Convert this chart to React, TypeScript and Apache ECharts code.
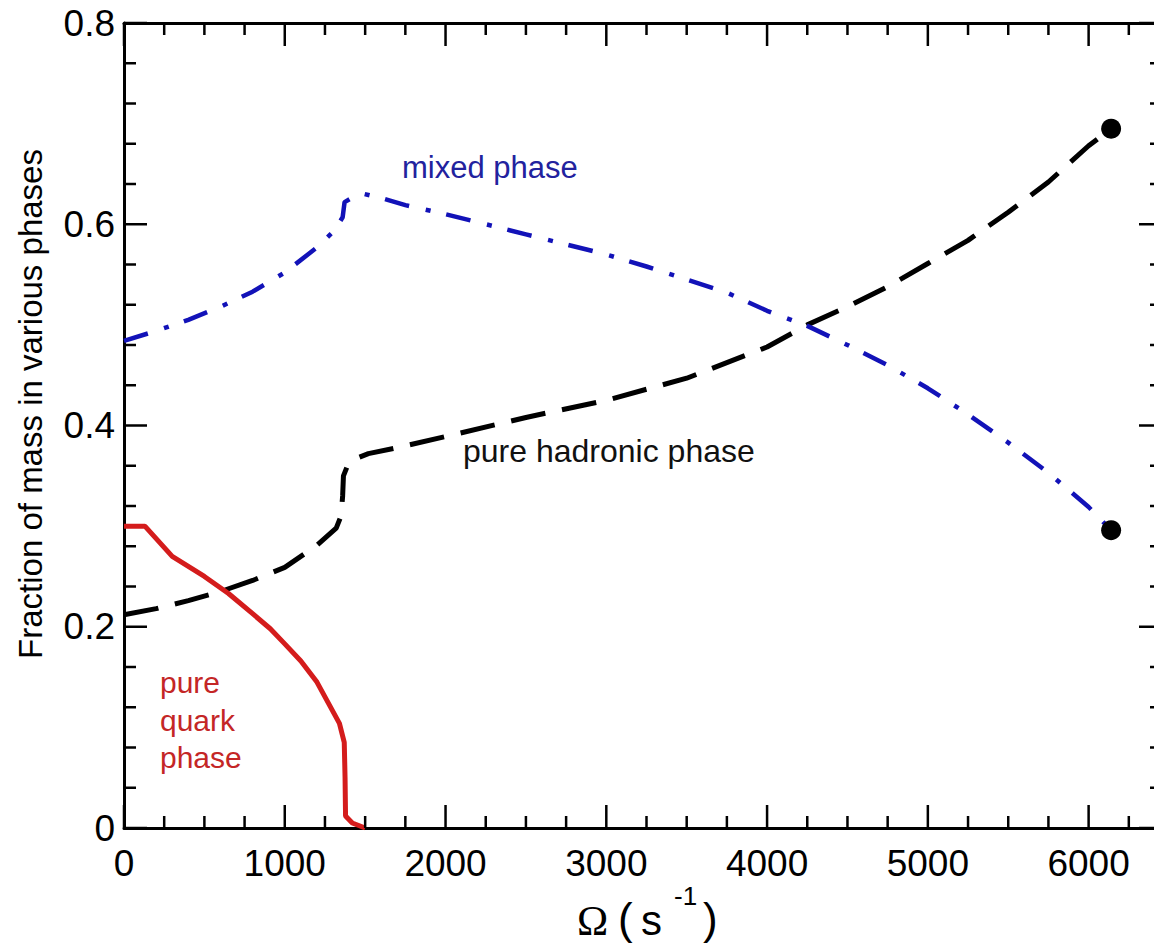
import React, { useEffect, useRef } from "react";
import * as echarts from "echarts";

// Ω (s^-1) vs fraction of mass
const pureQuark: [number, number][] = [
  [0, 0.3], [130, 0.3], [300, 0.27], [500, 0.25], [650, 0.233], [800, 0.213],
  [910, 0.198], [1000, 0.183], [1100, 0.166], [1200, 0.145], [1340, 0.104],
  [1370, 0.085], [1375, 0.05], [1378, 0.012], [1420, 0.005], [1500, 0],
];

const pureHadronic: [number, number][] = [
  [0, 0.212], [200, 0.218], [400, 0.226], [600, 0.235], [800, 0.246],
  [1000, 0.259], [1200, 0.281], [1320, 0.298], [1350, 0.31], [1360, 0.33],
  [1365, 0.35], [1390, 0.36], [1440, 0.367], [1520, 0.372], [1700, 0.378],
  [2000, 0.389], [2500, 0.408], [3000, 0.425], [3500, 0.447], [4000, 0.478],
  [4250, 0.5], [4500, 0.518], [4750, 0.538], [5000, 0.561], [5250, 0.584],
  [5500, 0.612], [5750, 0.642], [6000, 0.678], [6140, 0.695],
];

const mixedPhase: [number, number][] = [
  [0, 0.484], [200, 0.494], [400, 0.505], [600, 0.518], [800, 0.533],
  [1000, 0.552], [1200, 0.577], [1310, 0.594], [1360, 0.607],
  [1372, 0.622], [1470, 0.631], [1600, 0.626], [1750, 0.619], [2000, 0.61],
  [2250, 0.6], [2500, 0.59], [2750, 0.58], [3000, 0.57], [3250, 0.558],
  [3500, 0.545], [3750, 0.532], [4000, 0.514], [4250, 0.499], [4500, 0.48],
  [4750, 0.46], [5000, 0.437], [5250, 0.411], [5500, 0.383], [5750, 0.353],
  [6000, 0.319], [6140, 0.296],
];

const endPoints: [number, number][] = [
  [6140, 0.695],
  [6140, 0.296],
];

// tick positions (axis values)
const xTickValues = [
  0, 250, 500, 750, 1000, 1250, 1500, 1750, 2000, 2250, 2500, 2750, 3000,
  3250, 3500, 3750, 4000, 4250, 4500, 4750, 5000, 5250, 5500, 5750, 6000, 6250,
];
const xMajorTicks = [0, 1000, 2000, 3000, 4000, 5000, 6000];
const yTickValues = [
  0, 0.04, 0.08, 0.12, 0.16, 0.2, 0.24, 0.28, 0.32, 0.36, 0.4,
  0.44, 0.48, 0.52, 0.56, 0.6, 0.64, 0.68, 0.72, 0.76, 0.8,
];
const yMajorTicks = [0, 0.2, 0.4, 0.6, 0.8];

const xMin = 0;
const xMax = 6500;
const xStep = 1000;
const yMin = 0;
const yMax = 0.8;
const yStep = 0.2;

const SANS = "'Liberation Sans', Arial, Helvetica, sans-serif";
const SERIF = "'Liberation Serif', 'Times New Roman', serif";

const MAJOR_LEN = 23;
const MINOR_LEN = 12;
const RIGHT_INSET = 7;
const tickStyle = { stroke: "#000", lineWidth: 2.5 };

const mkLine = () => ({ show: true, onZero: false, lineStyle: { color: "#000", width: 3 } });

export default function App() {
  const ref = useRef<HTMLDivElement>(null);

  useEffect(() => {
    if (!ref.current) return;
    const chart = echarts.init(ref.current, null, { renderer: "svg" });

    const xTickData = xTickValues.map((v) => [v, yMin, xMajorTicks.includes(v) ? 1 : 0]);
    const yTickData = yTickValues.map((v) => [xMin, v, yMajorTicks.some((m) => Math.abs(m - v) < 1e-9) ? 1 : 0]);

    chart.setOption({
      animation: false,
      backgroundColor: "#fff",
      grid: { left: 124, top: 23, width: 1045, height: 805, containLabel: false, outerBoundsMode: "none" },
      xAxis: [
        {
          type: "value", position: "bottom", min: xMin, max: xMax, interval: xStep,
          axisLine: mkLine(), axisTick: { show: false }, minorTick: { show: false },
          splitLine: { show: false }, minorSplitLine: { show: false },
          axisLabel: {
            show: true, fontSize: 37, color: "#000", fontFamily: SANS, margin: 17,
            showMaxLabel: false, hideOverlap: false,
            formatter: (v: number) => (v % 1000 === 0 ? String(v) : ""),
          },
        },
        {
          type: "value", position: "top", min: xMin, max: xMax, interval: xStep,
          axisLine: mkLine(), axisTick: { show: false }, minorTick: { show: false },
          splitLine: { show: false }, minorSplitLine: { show: false },
          axisLabel: { show: false },
        },
      ],
      yAxis: [
        {
          type: "value", position: "left", min: yMin, max: yMax, interval: yStep,
          axisLine: mkLine(), axisTick: { show: false }, minorTick: { show: false },
          splitLine: { show: false }, minorSplitLine: { show: false },
          axisLabel: {
            show: true, fontSize: 37, color: "#000", fontFamily: SANS, margin: 9, hideOverlap: false,
            formatter: (v: number) => (v === 0 ? "0" : v.toFixed(1)),
          },
        },
        {
          type: "value", position: "right", offset: -RIGHT_INSET, min: yMin, max: yMax, interval: yStep,
          axisLine: mkLine(), axisTick: { show: false }, minorTick: { show: false },
          splitLine: { show: false }, minorSplitLine: { show: false },
          axisLabel: { show: false },
        },
      ],
      series: [
        {
          name: "pure hadronic phase", type: "line", data: pureHadronic,
          xAxisIndex: 0, yAxisIndex: 0, showSymbol: false, symbol: "none",
          lineStyle: { color: "#000", width: 5, type: [35, 17], cap: "butt" },
          z: 2,
        },
        {
          name: "mixed phase", type: "line", data: mixedPhase,
          xAxisIndex: 0, yAxisIndex: 0, showSymbol: false, symbol: "none",
          lineStyle: { color: "#1212b8", width: 4.5, type: [25, 17, 5, 16], cap: "butt" },
          z: 3,
        },
        {
          name: "pure quark phase", type: "line", data: pureQuark,
          xAxisIndex: 0, yAxisIndex: 0, showSymbol: false, symbol: "none",
          lineStyle: { color: "#d41c1c", width: 5 },
          z: 4,
        },
        {
          name: "end points", type: "scatter", data: endPoints,
          xAxisIndex: 0, yAxisIndex: 0, symbol: "circle", symbolSize: 20,
          itemStyle: { color: "#000", opacity: 1 },
          z: 5,
        },
        {
          name: "x ticks", type: "custom", coordinateSystem: "cartesian2d",
          xAxisIndex: 0, yAxisIndex: 0, data: xTickData, clip: false, silent: true,
          encode: { x: 0, y: 1 }, z: 10,
          renderItem: (_p: any, api: any) => {
            const v = api.value(0);
            const len = api.value(2) ? MAJOR_LEN : MINOR_LEN;
            const pb = api.coord([v, yMin]);
            const pt = api.coord([v, yMax]);
            return {
              type: "group",
              children: [
                { type: "line", shape: { x1: pb[0], y1: pb[1], x2: pb[0], y2: pb[1] - len }, style: tickStyle },
                { type: "line", shape: { x1: pt[0], y1: pt[1], x2: pt[0], y2: pt[1] + len }, style: tickStyle },
              ],
            };
          },
        },
        {
          name: "y ticks", type: "custom", coordinateSystem: "cartesian2d",
          xAxisIndex: 0, yAxisIndex: 0, data: yTickData, clip: false, silent: true,
          encode: { x: 0, y: 1 }, z: 10,
          renderItem: (_p: any, api: any) => {
            const v = api.value(1);
            const len = api.value(2) ? MAJOR_LEN : MINOR_LEN;
            const pl = api.coord([xMin, v]);
            const pr = api.coord([xMax, v]);
            const xr = pr[0] - RIGHT_INSET;
            return {
              type: "group",
              children: [
                { type: "line", shape: { x1: pl[0], y1: pl[1], x2: pl[0] + len, y2: pl[1] }, style: tickStyle },
                { type: "line", shape: { x1: xr, y1: pr[1], x2: xr - len, y2: pr[1] }, style: tickStyle },
              ],
            };
          },
        },
      ],
      graphic: [
        {
          type: "text", x: 30, y: 404, rotation: Math.PI / 2,
          style: {
            text: "Fraction of mass in various phases", fontSize: 33, fontFamily: SANS,
            fill: "#000", align: "center", verticalAlign: "middle",
          },
        },
        {
          type: "text", x: 402, y: 167,
          style: { text: "mixed phase", fontSize: 31, fontFamily: SANS, fill: "#22229e", align: "left", verticalAlign: "middle" },
        },
        {
          type: "text", x: 463, y: 451,
          style: { text: "pure hadronic phase", fontSize: 32, fontFamily: SANS, fill: "#111", align: "left", verticalAlign: "middle" },
        },
        {
          type: "text", x: 160, y: 682,
          style: { text: "pure", fontSize: 30, fontFamily: SANS, fill: "#c42626", align: "left", verticalAlign: "middle" },
        },
        {
          type: "text", x: 160, y: 720,
          style: { text: "quark", fontSize: 30, fontFamily: SANS, fill: "#c42626", align: "left", verticalAlign: "middle" },
        },
        {
          type: "text", x: 160, y: 757,
          style: { text: "phase", fontSize: 30, fontFamily: SANS, fill: "#c42626", align: "left", verticalAlign: "middle" },
        },
        {
          type: "text", x: 577, y: 921,
          style: { text: "Ω", fontSize: 42, fontFamily: SERIF, fill: "#000", align: "left", verticalAlign: "middle" },
        },
        {
          type: "text", x: 618, y: 918,
          style: { text: "(", fontSize: 44, fontFamily: SANS, fill: "#000", align: "left", verticalAlign: "middle" },
        },
        {
          type: "text", x: 641, y: 920,
          style: { text: "s", fontSize: 42, fontFamily: SANS, fill: "#000", align: "left", verticalAlign: "middle" },
        },
        {
          type: "text", x: 674, y: 896,
          style: { text: "-1", fontSize: 26, fontFamily: SANS, fill: "#000", align: "left", verticalAlign: "middle" },
        },
        {
          type: "text", x: 703, y: 918,
          style: { text: ")", fontSize: 44, fontFamily: SANS, fill: "#000", align: "left", verticalAlign: "middle" },
        },
      ],
    });

    return () => chart.dispose();
  }, []);

  return (
    <div
      ref={ref}
      style={{ position: "fixed", left: 0, top: 0, width: 1154, height: 946, background: "#fff" }}
    />
  );
}
